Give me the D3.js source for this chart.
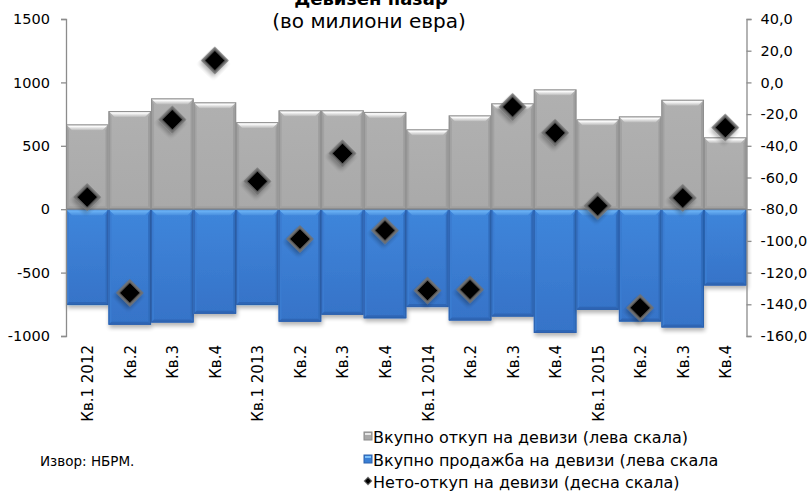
<!DOCTYPE html>
<html><head><meta charset="utf-8">
<script src="https://cdn.jsdelivr.net/npm/d3@7"></script>
<style>
body{margin:0;background:#fff;}
svg{display:block;font-family:"DejaVu Sans",sans-serif;}
</style></head>
<body>
<svg id="c" width="811" height="499"></svg>
<script>
const categories = ["Кв.1 2012","Кв.2","Кв.3","Кв.4","Кв.1 2013","Кв.2","Кв.3","Кв.4","Кв.1 2014","Кв.2","Кв.3","Кв.4","Кв.1 2015","Кв.2","Кв.3","Кв.4"];
const buying = [669,774,874,843,687,780,780,767,630,740,835,945,709,732,863,567];
const selling = [-756,-911,-893,-824,-756,-887,-832,-860,-772,-877,-846,-976,-793,-885,-932,-601];
const netBuying = [-72.4,-132.8,-23.5,13.8,-62.4,-98.8,-44.8,-93.4,-131.3,-130.7,-15.5,-31.8,-77.9,-142.2,-72.9,-28.5];
const leftTicks = [1500,1000,500,0,-500,-1000];
const rightTicks = [40,20,0,-20,-40,-60,-80,-100,-120,-140,-160];
const legendLabels = ["Вкупно откуп на девизи (лева скала)","Вкупно продажба на девизи (лева скала","Нето-откуп на девизи (десна скала)"];
const titleText = "Девизен пазар";
const subtitleText = "(во милиони евра)";
const sourceText = "Извор: НБРМ.";

const svg = d3.select("#c");
const L = 66, R = 746.5, T = 19, B = 336;
const x = d3.scaleBand().domain(d3.range(categories.length)).range([L, R]).padding(0);
const yL = d3.scaleLinear().domain([-1000,1500]).range([B, T]);
const yR = d3.scaleLinear().domain([-160,40]).range([B, T]);

const defs = svg.append("defs");
function lg(id, stops){
  const g = defs.append("linearGradient").attr("id", id).attr("x1",0).attr("y1",0).attr("x2",0).attr("y2",1);
  stops.forEach(s=>g.append("stop").attr("offset",s[0]).attr("stop-color",s[1]));
}
lg("gTop",[[0,"#e8e8e8"],[0.35,"#fafafa"],[1,"#b8b8b8"]]);
lg("bTop",[[0,"#7cc0fa"],[0.4,"#65adf2"],[1,"#4a8fdf"]]);
lg("gBody",[[0,"#b0b0b0"],[1,"#a9a9a9"]]);
lg("bBody",[[0,"#3f86db"],[1,"#3673c8"]]);
const f = defs.append("filter").attr("id","sh").attr("x","-20%").attr("y","-20%").attr("width","150%").attr("height","160%");
f.append("feGaussianBlur").attr("in","SourceAlpha").attr("stdDeviation",2);
f.append("feOffset").attr("dx",1).attr("dy",3).attr("result","ob");
f.append("feComponentTransfer").append("feFuncA").attr("type","linear").attr("slope",0.3);
const fm = f.append("feMerge"); fm.append("feMergeNode"); fm.append("feMergeNode").attr("in","SourceGraphic");

function drawBars(data, isBuy){
  const g = svg.append("g");
  data.forEach((v,i)=>{
    const x0 = x(i), w = x.bandwidth();
    const y0 = isBuy ? yL(v) : yL(0);
    const h = Math.abs(yL(v) - yL(0));
    const gg = g.append("g").attr("filter", isBuy? null : "url(#sh)");
    gg.append("rect").attr("x",x0).attr("y",y0).attr("width",w).attr("height",h)
      .attr("fill", isBuy? "url(#gBody)":"url(#bBody)");
    const b = 6;
    gg.append("path").attr("d",`M${x0},${y0}L${x0+w},${y0}L${x0+w-b},${y0+b}L${x0+b},${y0+b}Z`)
      .attr("fill", isBuy? "url(#gTop)":"url(#bTop)");
    gg.append("path").attr("d",`M${x0},${y0}L${x0+b*0.5},${y0+b}L${x0+b*0.5},${y0+h-b*0.5}L${x0},${y0+h}Z`)
      .attr("fill", isBuy? "#a2a2a2":"#3a7bd0");
    gg.append("path").attr("d",`M${x0+w},${y0}L${x0+w-b*0.5},${y0+b}L${x0+w-b*0.5},${y0+h-b*0.5}L${x0+w},${y0+h}Z`)
      .attr("fill", isBuy? "#9d9d9d":"#336fc2");
    gg.append("path").attr("d",`M${x0},${y0+h}L${x0+b*0.5},${y0+h-b*0.5}L${x0+w-b*0.5},${y0+h-b*0.5}L${x0+w},${y0+h}Z`)
      .attr("fill", isBuy? "#a0a0a0":"#2f66b5");
    gg.append("rect").attr("x",x0+0.5).attr("y",y0+0.5).attr("width",w-1).attr("height",Math.max(0,h-1))
      .attr("fill","none").attr("stroke", isBuy? "#8f8f8f":"#2d62ad").attr("stroke-width",1);
  });
}
drawBars(buying, true);
drawBars(selling, false);

const axL = d3.axisLeft(yL).tickValues(leftTicks).tickSize(5).tickPadding(11).tickFormat(d=>String(d));
const gL = svg.append("g").attr("transform",`translate(${L},0)`).call(axL);
const axR = d3.axisRight(yR).tickValues(rightTicks).tickSize(5).tickPadding(9).tickFormat(d=>d3.format(".1f")(d).replace(".",",").replace("−","-"));
const gR = svg.append("g").attr("transform",`translate(${R},0)`).call(axR);
[gL,gR].forEach(g=>{
  g.select(".domain").attr("stroke","#8c8c8c").attr("stroke-width",1.3);
  g.selectAll(".tick line").attr("stroke","#8c8c8c").attr("stroke-width",1.3);
  g.selectAll(".tick text").attr("fill","#000").attr("font-size",14.5).attr("font-family","DejaVu Sans");
});

svg.append("line").attr("x1",L).attr("x2",R).attr("y1",yL(0)).attr("y2",yL(0)).attr("stroke","#8c8c8c").attr("stroke-width",1);

const sym = d3.symbol().type(d3.symbolSquare).size(290);
svg.append("g").selectAll("path").data(netBuying).join("path")
  .attr("d", sym)
  .attr("transform",(d,i)=>`translate(${x(i)+x.bandwidth()/2},${yR(d)}) rotate(45)`)
  .attr("fill","#000").attr("stroke","#707070").attr("stroke-width",2.5).attr("filter","url(#sh)");

svg.append("g").selectAll("text").data(categories).join("text")
  .attr("transform",(d,i)=>`translate(${x(i)+x.bandwidth()/2+6},345) rotate(-90)`)
  .attr("text-anchor","end").attr("font-size",15).text(d=>d);

svg.append("text").attr("x",371).attr("y",5).attr("text-anchor","middle").attr("font-weight","bold").attr("font-size",18).text(titleText);
svg.append("text").attr("x",369).attr("y",28).attr("text-anchor","middle").attr("font-size",20).text(subtitleText);

svg.append("text").attr("x",40).attr("y",466).attr("font-size",13.5).text(sourceText);

const lgY = [437,460,482];
const lg2 = svg.append("g");
lgY.forEach((yy,i)=>{
  if(i<2){
    lg2.append("rect").attr("x",364).attr("y",yy-5).attr("width",8).attr("height",8)
      .attr("fill", i==0? "#a9a9a9":"#3a7fd5").attr("stroke", i==0? "#8a8a8a":"#2d62ad");
    lg2.append("rect").attr("x",365).attr("y",yy-4).attr("width",6).attr("height",2).attr("fill", i==0? "#e8e8e8":"#7cc0fa");
  } else {
    lg2.append("path").attr("d",d3.symbol().type(d3.symbolSquare).size(28)()).attr("transform",`translate(368,${yy-1}) rotate(45)`)
      .attr("fill","#000").attr("stroke","#777").attr("stroke-width",1);
  }
  lg2.append("text").attr("x",373).attr("y",yy+5.5).attr("font-size",16).text(legendLabels[i]);
});
</script>
</body></html>
